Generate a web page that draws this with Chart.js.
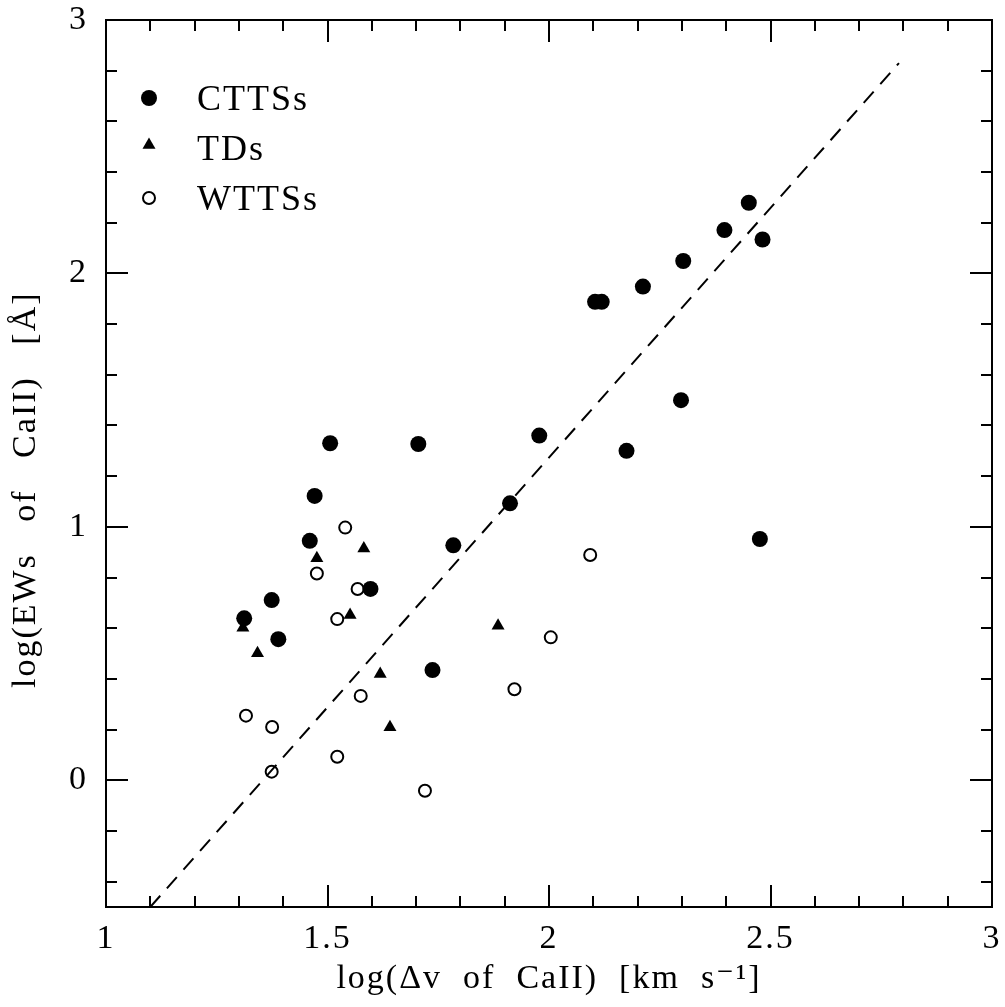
<!DOCTYPE html>
<html>
<head>
<meta charset="utf-8">
<script src="https://cdn.jsdelivr.net/npm/chart.js@4/dist/chart.umd.min.js"></script>
<style>
  html, body { margin: 0; padding: 0; background: #fff; }
  #wrap { width: 1005px; height: 1007px; }
</style>
</head>
<body>
<div id="wrap"><canvas id="ewChart" width="1005" height="1007"></canvas></div>
<script>
// CTTSs (filled circles)
const cttsX = [1.312, 1.374, 1.389, 1.460, 1.471, 1.506, 1.597, 1.705, 1.737, 1.784, 1.912,
               1.978, 2.104, 2.119, 2.175, 2.212, 2.298, 2.303, 2.396, 2.451, 2.476, 2.482];
const cttsY = [0.639, 0.711, 0.557, 0.945, 1.122, 1.330, 0.755, 1.327, 0.435, 0.927, 1.093,
               1.360, 1.888, 1.888, 1.300, 1.948, 1.500, 2.049, 2.171, 2.279, 0.952, 2.134];
// TDs (filled triangles)
const tdX = [1.309, 1.342, 1.476, 1.551, 1.582, 1.619, 1.641, 1.885];
const tdY = [0.602, 0.501, 0.876, 0.652, 0.915, 0.419, 0.209, 0.610];
// WTTSs (open circles)
const wttsX = [1.316, 1.374, 1.375, 1.476, 1.522, 1.522, 1.540, 1.568, 1.575, 1.720, 1.922, 2.004, 2.093];
const wttsY = [0.255, 0.034, 0.210, 0.816, 0.093, 0.636, 0.997, 0.755, 0.333, -0.041, 0.359, 0.564, 0.889];
// dashed relation
const fitX = [1.1, 2.79];
const fitY = [-0.5, 2.83];

const xTicks = [1, 1.5, 2, 2.5, 3];
const yTicks = [0, 1, 2, 3];
const xMinorStep = 0.1;
const yMinorStep = 0.2;

const seriesNames = ["CTTSs", "TDs", "WTTSs"];

const serif = "'Liberation Serif', 'DejaVu Serif', serif";

function toPoints(xs, ys) {
    return xs.map(function(x, i) { return { x: x, y: ys[i] }; });
}

// inward ticks + box round the plot
const framePlugin = {
    id: 'frame',
    beforeDraw(chart) { chart.ctx.letterSpacing = '2px'; },
    afterDraw(chart) {
        const ctx = chart.ctx;
        const a = chart.chartArea;
        const xs = chart.scales.x, ys = chart.scales.y;
        ctx.save();
        ctx.strokeStyle = '#000';
        ctx.lineWidth = 2;
        ctx.strokeRect(a.left, a.top, a.right - a.left, a.bottom - a.top);
        ctx.beginPath();
        for (let v = xs.min; v <= xs.max + 1e-9; v += xMinorStep) {
            const px = Math.round(xs.getPixelForValue(v));
            const major = Math.abs(v * 2 - Math.round(v * 2)) < 1e-6;
            const len = major ? 22 : 11;
            ctx.moveTo(px, a.bottom); ctx.lineTo(px, a.bottom - len);
            ctx.moveTo(px, a.top); ctx.lineTo(px, a.top + len);
        }
        for (let v = -0.4; v <= ys.max + 1e-9; v += yMinorStep) {
            const py = Math.round(ys.getPixelForValue(v));
            const major = Math.abs(v - Math.round(v)) < 1e-6;
            const len = major ? 22 : 11;
            ctx.moveTo(a.left, py); ctx.lineTo(a.left + len, py);
            ctx.moveTo(a.right, py); ctx.lineTo(a.right - len, py);
        }
        ctx.stroke();

        // legend in the top left corner
        const rows = [110, 160, 210];
        chart.data.datasets.slice(0, 3).forEach(function(ds, i) {
            const opts = {
                pointStyle: ds.pointStyle,
                radius: ds.pointRadius,
                borderWidth: ds.pointBorderWidth,
                rotation: 0
            };
            ctx.fillStyle = ds.pointBackgroundColor;
            ctx.strokeStyle = ds.pointBorderColor;
            ctx.lineWidth = ds.pointBorderWidth;
            const my = ds.pointStyle === 'triangle' ? rows[i] - 15 : rows[i] - 12;
            Chart.helpers.drawPoint(ctx, opts, 149, my);
            ctx.fillStyle = '#000';
            ctx.font = '36px ' + serif;
            ctx.textAlign = 'left';
            ctx.textBaseline = 'alphabetic';
            ctx.fillText(ds.label, 197, rows[i]);
        });
        ctx.restore();
        ctx.letterSpacing = '0px';
    }
};

new Chart(document.getElementById('ewChart'), {
    type: 'scatter',
    data: {
        datasets: [
            {
                label: seriesNames[0],
                data: toPoints(cttsX, cttsY),
                pointStyle: 'circle',
                pointRadius: 8,
                pointBorderWidth: 0,
                pointBackgroundColor: '#000',
                pointBorderColor: '#000'
            },
            {
                label: seriesNames[1],
                data: toPoints(tdX, tdY),
                pointStyle: 'triangle',
                pointRadius: 7.5,
                pointBorderWidth: 0,
                pointBackgroundColor: '#000',
                pointBorderColor: '#000'
            },
            {
                label: seriesNames[2],
                data: toPoints(wttsX, wttsY),
                pointStyle: 'circle',
                pointRadius: 6,
                pointBorderWidth: 2,
                pointBackgroundColor: 'rgba(0,0,0,0)',
                pointBorderColor: '#000'
            },
            {
                label: 'fit',
                type: 'line',
                data: toPoints(fitX, fitY),
                showLine: true,
                borderColor: '#000',
                borderWidth: 2,
                borderDash: [15, 10],
                pointRadius: 0,
                fill: false
            }
        ]
    },
    options: {
        responsive: false,
        animation: false,
        events: [],
        layout: { padding: { left: 0, top: 20, right: 13, bottom: 0 } },
        plugins: {
            legend: { display: false },
            tooltip: { enabled: false }
        },
        scales: {
            x: {
                type: 'linear',
                min: 1,
                max: 3,
                afterFit: function(scale) {
                    scale.height = 100;
                    scale.paddingLeft = 0;
                    scale.paddingRight = 0;
                },
                afterBuildTicks: function(scale) {
                    scale.ticks = xTicks.map(function(v) { return { value: v }; });
                },
                grid: { display: false, drawTicks: false },
                border: { display: false },
                ticks: {
                    padding: 12,
                    color: '#000',
                    maxRotation: 0,
                    autoSkip: false,
                    font: { family: serif, size: 34 },
                    callback: function(v) { return String(v); }
                },
                title: {
                    display: true,
                    text: 'log(\u0394v  of  CaII)  [km  s\u207B\u00B9]',
                    color: '#000',
                    font: { family: serif, size: 34 },
                    padding: { top: 8, bottom: 8 }
                }
            },
            y: {
                type: 'linear',
                min: -0.5,
                max: 3,
                afterFit: function(scale) {
                    scale.width = 106;
                    scale.paddingTop = 0;
                    scale.paddingBottom = 0;
                },
                afterBuildTicks: function(scale) {
                    scale.ticks = yTicks.map(function(v) { return { value: v }; });
                },
                grid: { display: false, drawTicks: false },
                border: { display: false },
                ticks: {
                    padding: 18,
                    color: '#000',
                    autoSkip: false,
                    font: { family: serif, size: 34 },
                    callback: function(v) { return String(v); }
                },
                title: {
                    display: true,
                    text: 'log(EWs   of   CaII)   [\u00C5]     ',
                    color: '#000',
                    font: { family: serif, size: 34 },
                    padding: { top: 6, bottom: 6 }
                }
            }
        }
    },
    plugins: [framePlugin]
});
</script>
</body>
</html>
